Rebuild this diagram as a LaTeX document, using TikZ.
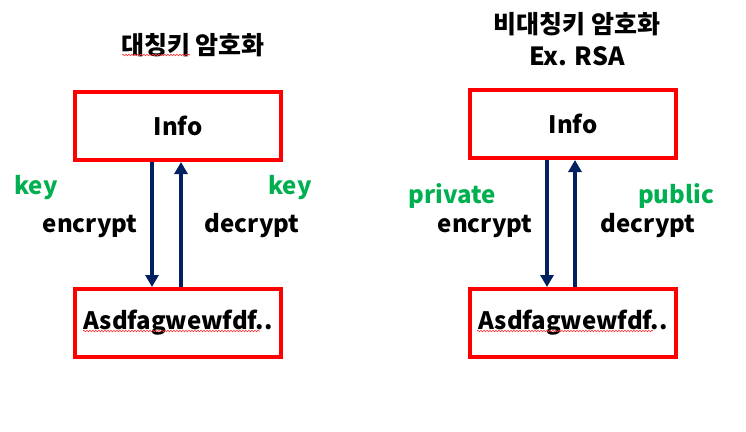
\documentclass[tikz,border=0pt]{standalone}
\usepackage{fontspec}
\setmainfont{Noto Sans CJK KR}
\usepackage{xcolor}
\usepackage{tikz}
\usetikzlibrary{calc,arrows.meta,positioning,decorations.pathmorphing}

\definecolor{boxred}{HTML}{FF0000}
\definecolor{arrownavy}{HTML}{002060}
\definecolor{keygreen}{HTML}{00B050}

\tikzset{
  databox/.style={draw=boxred, line width=4pt, minimum width=206pt, minimum height=68pt,
    font=\fontsize{24}{28}\selectfont\bfseries},
  flow/.style={draw=arrownavy, line width=3.5pt, -{Triangle[width=13pt,length=12pt]}},
  lbl/.style={font=\fontsize{24}{28}\selectfont\bfseries},
  keylbl/.style={lbl, text=keygreen},
  ttl/.style={font=\fontsize{25}{32}\selectfont\bfseries, align=center},
  squig/.style={draw=red!80, line width=0.6pt, decorate,
    decoration={snake, segment length=3pt, amplitude=0.8pt}}
}

\begin{document}
\begin{tikzpicture}[x=1pt,y=-1pt]
\useasboundingbox (0,0) rectangle (746,431);

% symmetric
\node[ttl] (symtitle) at (193,45) {대칭키 암호화};
\node[databox] (syminfo) at (178,126) {Info};
\node[databox] (symcipher) at (178,323) {Asdfagwewfdf..};

\draw[flow] ([xshift=-26pt]syminfo.south) -- ([xshift=-26pt]symcipher.north);
\draw[flow] ([xshift=3pt]symcipher.north) -- ([xshift=3pt]syminfo.south);

\node[keylbl] (symkeyenc) at (36,188) {key};
\node[lbl] (symenc) at (90,226) {encrypt};
\node[keylbl] (symkeydec) at (290,188) {key};
\node[lbl] (symdec) at (252,226) {decrypt};

\draw[squig] (122,55) -- (190,55);
\draw[squig] (83,331) -- (260,331);

% asymmetric
\node[ttl] (asymtitle) at (577,39) {비대칭키 암호화\\Ex. RSA};
\node[databox] (asyminfo) at (573,124) {Info};
\node[databox] (asymcipher) at (573,323) {Asdfagwewfdf..};

\draw[flow] ([xshift=-26pt]asyminfo.south) -- ([xshift=-26pt]asymcipher.north);
\draw[flow] ([xshift=2pt]asymcipher.north) -- ([xshift=2pt]asyminfo.south);

\node[keylbl] (asymkeyenc) at (452,196) {private};
\node[lbl] (asymenc) at (485,226) {encrypt};
\node[keylbl] (asymkeydec) at (676,196) {public};
\node[lbl] (asymdec) at (648,226) {decrypt};

\draw[squig] (477,331) -- (653,331);

\end{tikzpicture}
\end{document}
